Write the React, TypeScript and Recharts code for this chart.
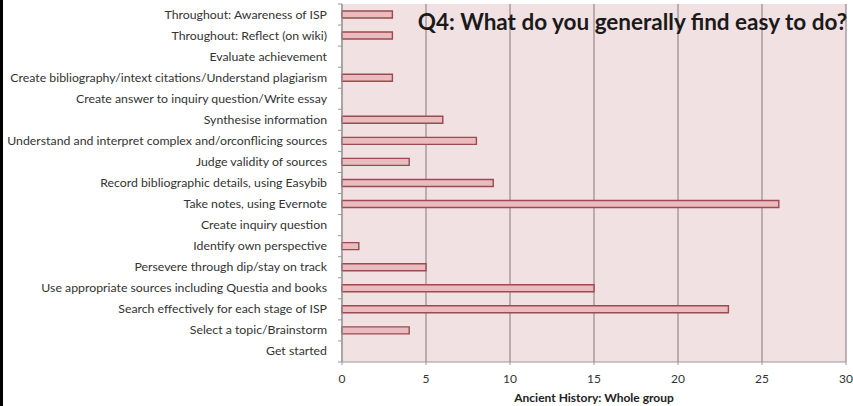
import React from 'react';
import { BarChart, Bar, XAxis, YAxis, CartesianGrid } from 'recharts';

// categories top to bottom, as in the slide
const skills = [
  'Throughout: Awareness of ISP',
  'Throughout: Reflect (on wiki)',
  'Evaluate achievement',
  'Create bibliography/intext citations/Understand  plagiarism',
  'Create answer to inquiry question/Write essay',
  'Synthesise information',
  'Understand and interpret complex and/orconflicing sources',
  'Judge validity of sources',
  'Record bibliographic details,  using Easybib',
  'Take notes, using Evernote',
  'Create inquiry question',
  'Identify own perspective',
  'Persevere through dip/stay on track',
  'Use appropriate  sources including Questia and books',
  'Search effectively for each stage  of ISP',
  'Select a topic/Brainstorm',
  'Get started',
];
const counts = [3, 3, 0, 3, 0, 6, 8, 4, 9, 26, 0, 1, 5, 15, 23, 4, 0];
const xTicks = [0, 5, 10, 15, 20, 25, 30];

const data = skills.map((skill, i) => ({ skill, count: counts[i] }));

const BAND = 358 / skills.length;

const SkillTick = (props: any) => {
  const { x, y, payload, index } = props;
  const ax = x + 8; // axis line position
  return (
    <g>
      <text x={ax - 15} y={y} dy={4} textAnchor="end" fontSize={12.3} fill="#333">
        {payload.value}
      </text>
      <line x1={ax - 4} x2={ax} y1={y + BAND / 2} y2={y + BAND / 2} stroke="#999" />
      {index === 0 && <line x1={ax - 4} x2={ax} y1={y - BAND / 2} y2={y - BAND / 2} stroke="#999" />}
    </g>
  );
};

const App: React.FC = () => {
  return (
    <div style={{ position: 'fixed', left: 0, top: 0, width: 853, height: 406, background: '#fff', fontFamily: 'Lato, sans-serif', overflow: 'hidden' }}>
      <div style={{ position: 'absolute', left: 0, top: 0, width: 3, height: 406, background: '#000' }} />
      <BarChart
        width={853}
        height={406}
        data={data}
        layout="vertical"
        margin={{ top: 4, right: 7, bottom: 0, left: 0 }}
        barCategoryGap={0}
      >
        <CartesianGrid horizontal={false} fill="#f2e1e2" stroke="#a89b9c" strokeWidth={1.5} />
        <XAxis
          type="number"
          domain={[0, 30]}
          ticks={xTicks}
          interval={0}
          height={44}
          stroke="#999"
          tickSize={3}
          tickMargin={9}
          tick={{ fontSize: 12, fill: '#333' }}
          label={{ value: 'Ancient History: Whole group', position: 'insideBottom', offset: 4, fontSize: 12, fontWeight: 700, fill: '#222' }}
        />
        <YAxis
          type="category"
          dataKey="skill"
          width={342}
          stroke="#999"
          tickLine={false}
          interval={0}
          tick={<SkillTick />}
        />
        <Bar dataKey="count" barSize={7} fill="#ebbcbf" stroke="#9a4a51" strokeWidth={1.4} isAnimationActive={false} />
      </BarChart>
      <div style={{ position: 'absolute', right: 6, top: 8, fontSize: 22.5, lineHeight: '27px', fontWeight: 700, color: '#1a1a1a', whiteSpace: 'nowrap' }}>
        Q4: What do you generally find easy to do?
      </div>
    </div>
  );
};

export default App;
